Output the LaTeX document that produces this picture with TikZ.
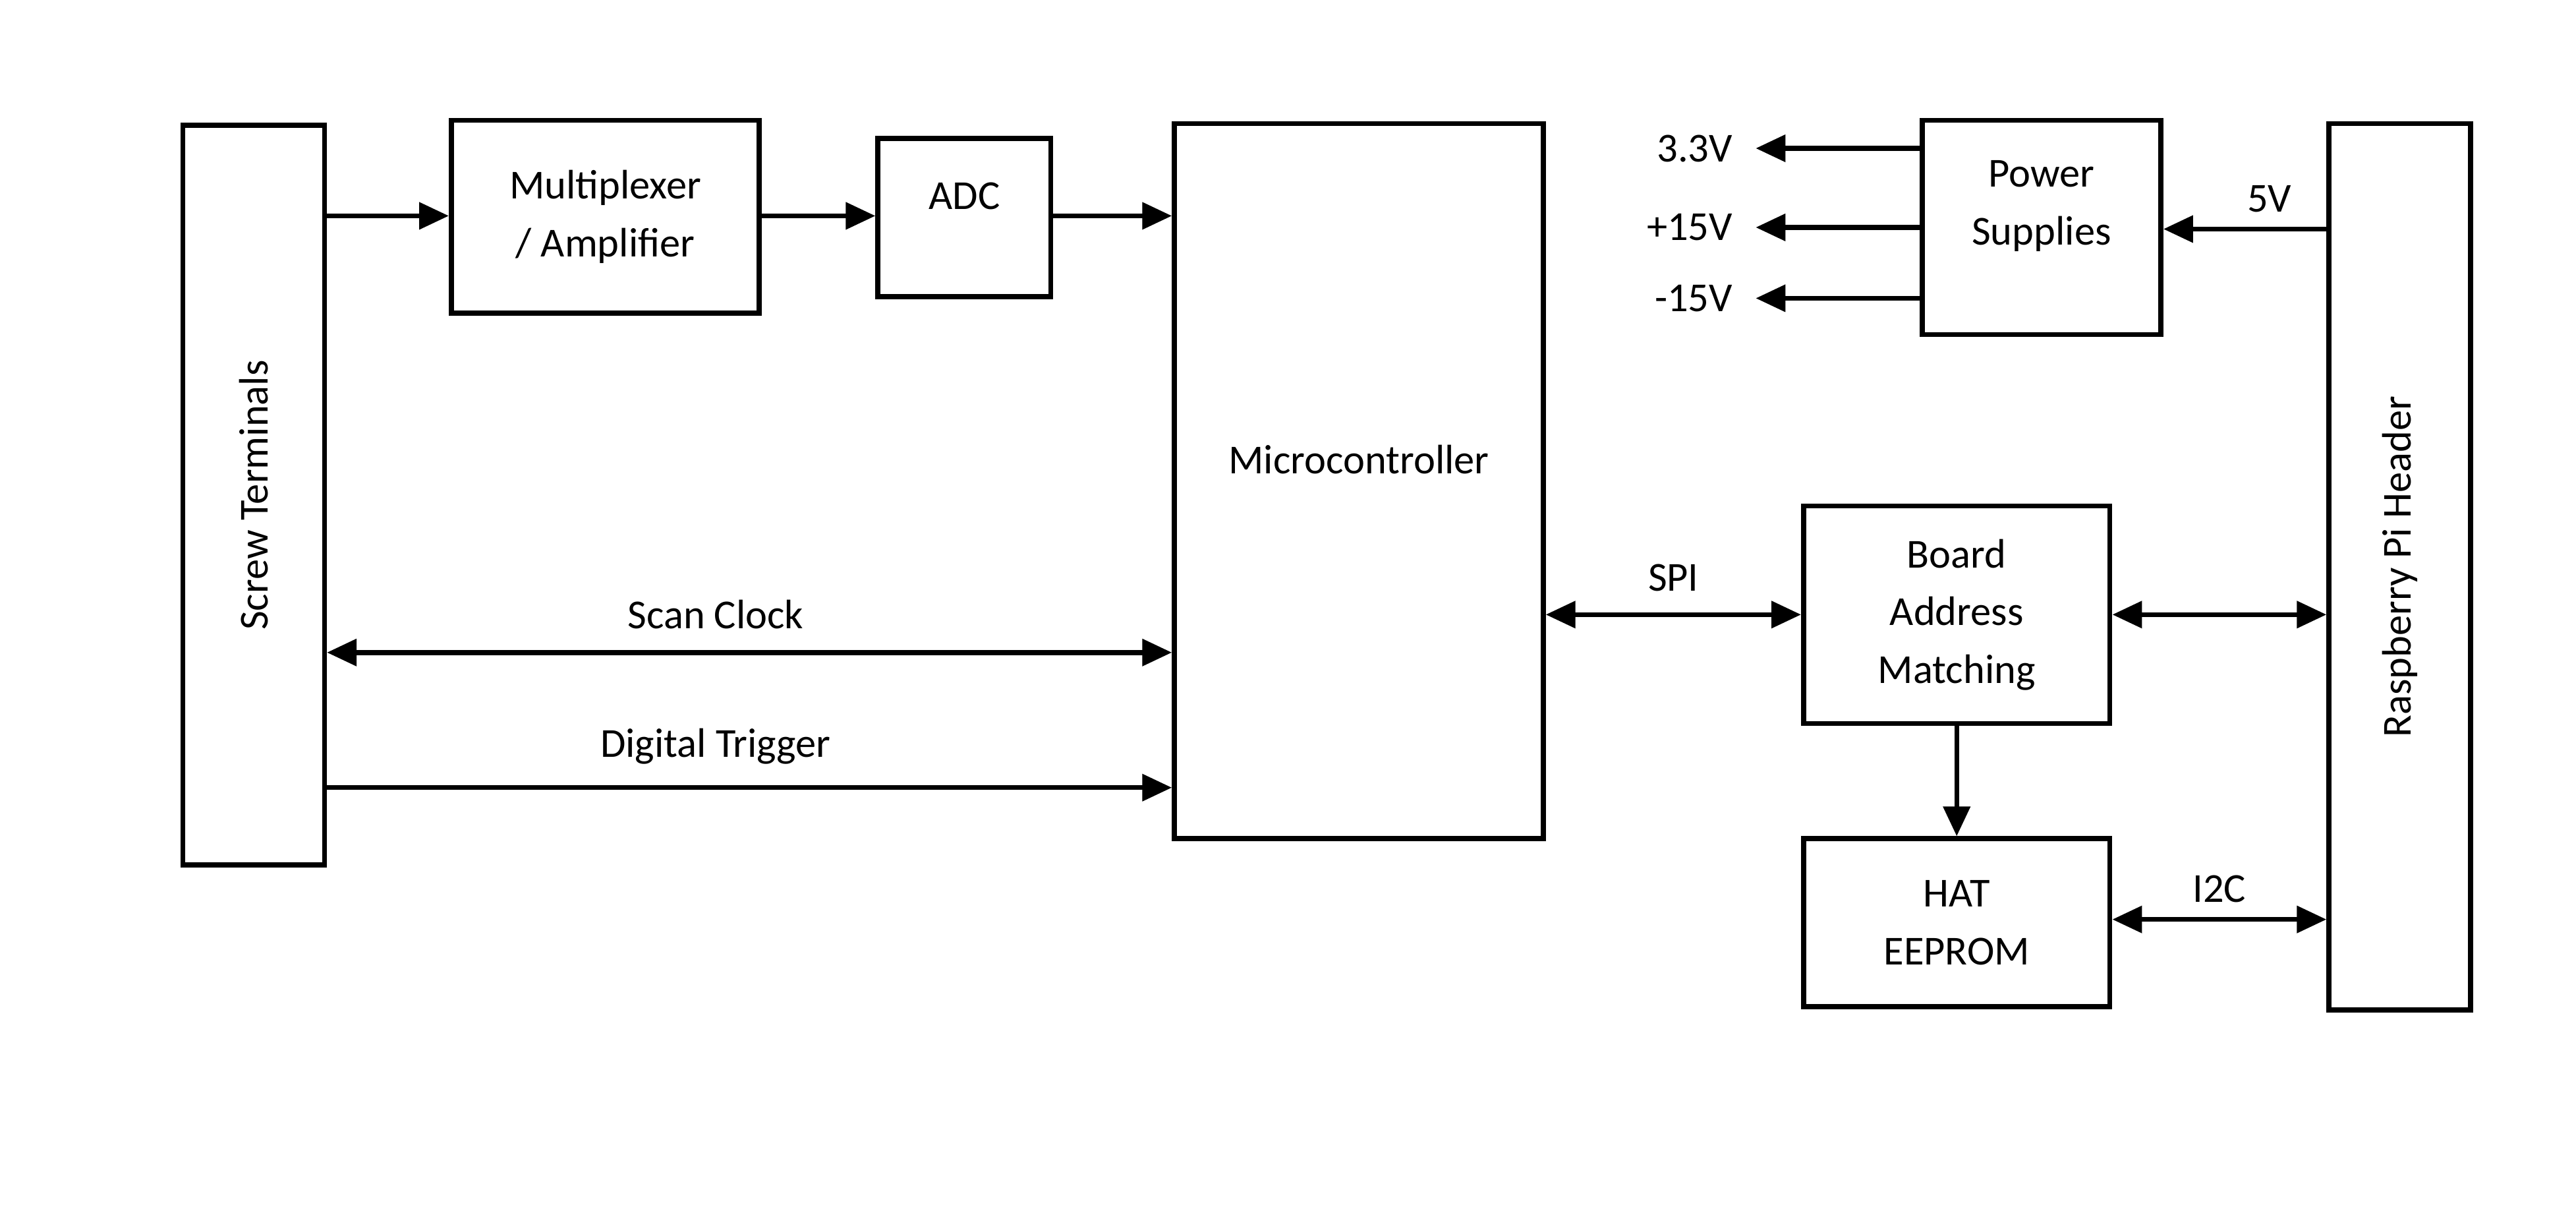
\documentclass[tikz,border=0pt]{standalone}
\usepackage{fontspec}
\setmainfont{Carlito}
\usetikzlibrary{arrows.meta}
\begin{document}
\begin{tikzpicture}[x=0.5pt,y=-0.5pt,
  box/.style={draw,line width=1.5pt,inner sep=0pt,align=center,font=\fontsize{12.5}{17.5}\selectfont},
  conn/.style={line width=1.5pt,-{Triangle[length=9pt,width=8pt]}},
  bi/.style={line width=1.5pt,{Triangle[length=9pt,width=8pt]}-{Triangle[length=9pt,width=8pt]}},
  lbl/.style={font=\fontsize{12.5}{15}\selectfont}]
\useasboundingbox (0,0) rectangle (1564,736);
\node[box,minimum width=43pt,minimum height=224.5pt] (st) at (154,300.5) {};
\node[rotate=90,lbl] at (154,300.5) {Screw Terminals};
\node[box,minimum width=93.5pt,minimum height=58.5pt] (mux) at (367.5,131.5) {Multiplexer\\/ Amplifier};
\node[box,minimum width=52.5pt,minimum height=48pt] (adc) at (585.5,132) {};
\node[lbl] at (585.5,119) {ADC};
\node[box,minimum width=112pt,minimum height=217pt] (mcu) at (825,292) {};
\node[lbl] at (825,279) {Microcontroller};
\node[box,minimum width=72.5pt,minimum height=65pt] (ps) at (1239.5,138) {};
\node[box,minimum width=43pt,minimum height=269pt] (rpi) at (1457,344) {};
\node[lbl,align=center,font=\fontsize{12.5}{17.5}\selectfont] at (1239.5,125) {Power\\Supplies};
\node[rotate=90,lbl] at (1457,344) {Raspberry Pi Header};
\node[box,minimum width=93pt,minimum height=66pt] (bam) at (1188,373) {Board\\Address\\Matching};
\node[box,minimum width=93pt,minimum height=51pt] (hat) at (1188,560) {HAT\\EEPROM};
\draw[conn] (st.east|-0,131) -- (mux.west|-0,131);
\draw[conn] (mux.east|-0,131) -- (adc.west|-0,131);
\draw[conn] (adc.east|-0,131) -- (mcu.west|-0,131);
\draw[bi] (st.east|-0,396) -- node[pos=0.46,above=3pt,lbl]{Scan Clock} (mcu.west|-0,396);
\draw[conn] (st.east|-0,478) -- node[pos=0.46,above=3pt,lbl]{Digital Trigger} (mcu.west|-0,478);
\draw[bi] (mcu.east|-0,373) -- node[above=3pt,lbl]{SPI} (bam.west|-0,373);
\draw[bi] (bam.east|-0,373) -- (rpi.west|-0,373);
\draw[conn] (bam.south) -- (hat.north);
\draw[bi] (hat.east|-0,558) -- node[above=1pt,lbl]{I2C} (rpi.west|-0,558);
\draw[conn] (rpi.west|-0,139) -- node[pos=0.35,above=1pt,lbl]{5V} (ps.east|-0,139);
\coordinate (o1) at (1066,90);
\coordinate (o2) at (1066,138);
\coordinate (o3) at (1066,181);
\draw[conn] (ps.west|-o1) -- (o1) node[left=3pt,lbl]{3.3V};
\draw[conn] (ps.west|-o2) -- (o2) node[left=3pt,lbl]{+15V};
\draw[conn] (ps.west|-o3) -- (o3) node[left=3pt,lbl]{-15V};
\end{tikzpicture}
\end{document}
